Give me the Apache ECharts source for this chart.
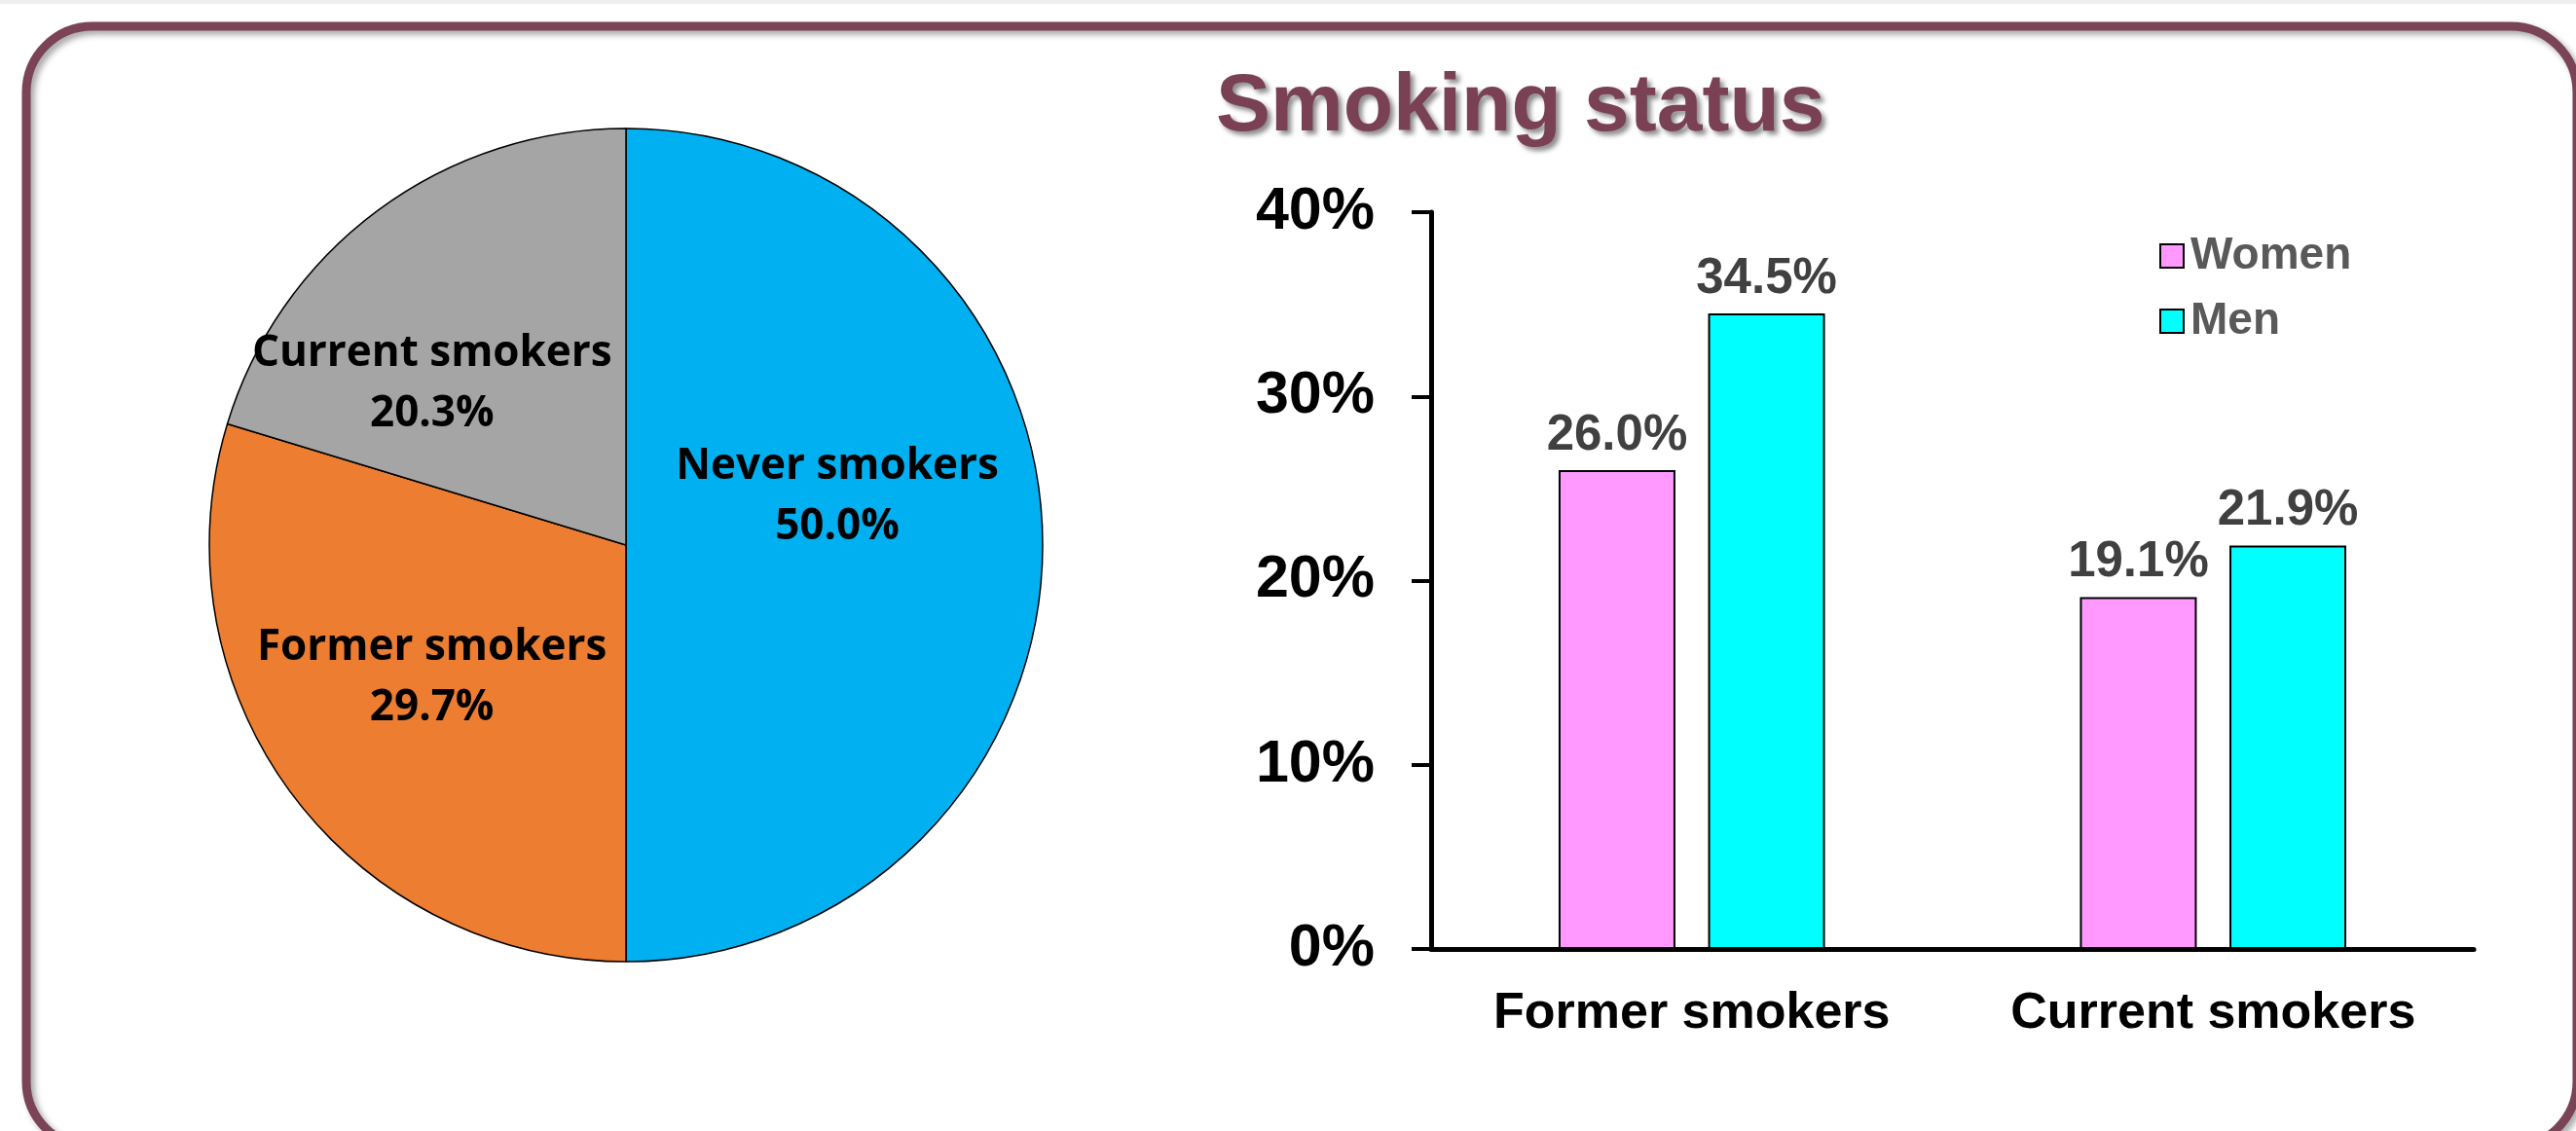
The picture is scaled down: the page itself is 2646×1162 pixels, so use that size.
<!DOCTYPE html>
<html>
<head>
<meta charset="utf-8">
<title>Smoking status</title>
<script src="https://cdn.jsdelivr.net/npm/echarts@6/dist/echarts.min.js"></script>
<style>
  html, body { margin: 0; padding: 0; background: #fff; }
  #myEchart { width: 2646px; height: 1162px; }
</style>
</head>
<body>
<div id="myEchart"></div>
<script>
// pie data
var pieNames = ['Never smokers', 'Former smokers', 'Current smokers'];
var pieValues = [50.0, 29.7, 20.3];
var pieColors = ['#00B0F0', '#ED7D31', '#A5A5A5'];
// bar data
var barCategories = ['Former smokers', 'Current smokers'];
var womenValues = [26.0, 19.1];
var menValues = [34.5, 21.9];
var seriesNames = ['Women', 'Men'];

// label nudges so the pie labels sit like the original (excel best fit)
var pieLabelOffset = [[0, -50], [-25, 7], [-70, 9]];

var chart = echarts.init(document.getElementById('myEchart'));

var pieData = pieNames.map(function (name, i) {
  return {
    name: name,
    value: pieValues[i],
    itemStyle: { color: pieColors[i] },
    label: { offset: pieLabelOffset[i] }
  };
});

var arial = 'Arial, "Liberation Sans", sans-serif';

var option = {
  backgroundColor: '#fff',
  animation: false,
  title: {
    text: 'Smoking status',
    left: 1244,
    top: 64,
    textStyle: {
      fontFamily: arial,
      fontWeight: 'bold',
      fontSize: 84,
      color: '#7A4155',
      textShadowColor: 'rgba(0,0,0,0.45)',
      textShadowBlur: 5,
      textShadowOffsetX: 4,
      textShadowOffsetY: 4
    }
  },
  legend: {
    orient: 'vertical',
    left: 2213,
    top: 235,
    itemWidth: 24,
    itemHeight: 24,
    itemGap: 21,
    icon: 'rect',
    data: seriesNames,
    textStyle: {
      fontFamily: arial,
      fontWeight: 'bold',
      fontSize: 46,
      lineHeight: 46,
      color: '#595959',
      padding: [0, 0, 0, 2]
    }
  },
  grid: {
    left: 1470,
    right: 105,
    top: 218,
    bottom: 187
  },
  xAxis: {
    type: 'category',
    data: barCategories,
    axisLine: { lineStyle: { color: '#000', width: 5 } },
    axisTick: { show: false },
    axisLabel: {
      interval: 0,
      hideOverlap: false,
      margin: 41,
      color: '#000',
      fontFamily: arial,
      fontWeight: 'bold',
      fontSize: 52
    }
  },
  yAxis: {
    type: 'value',
    min: 0,
    max: 40,
    interval: 10,
    splitLine: { show: false },
    axisLine: { show: true, lineStyle: { color: '#000', width: 5 } },
    axisTick: { show: true, length: 20, lineStyle: { color: '#000', width: 4 } },
    axisLabel: {
      margin: 58,
      formatter: '{value}%',
      color: '#000',
      fontFamily: arial,
      fontWeight: 'bold',
      fontSize: 61
    }
  },
  series: [
    {
      name: 'pie',
      type: 'pie',
      center: [643, 560],
      radius: 428,
      startAngle: 90,
      clockwise: true,
      silent: true,
      itemStyle: { borderColor: '#000', borderWidth: 1.5 },
      label: {
        show: true,
        position: 'inside',
        color: '#000',
        fontFamily: '"Open Sans", "Noto Sans", sans-serif',
        fontWeight: 'bold',
        fontSize: 44,
        lineHeight: 62,
        align: 'center',
        formatter: function (p) {
          return p.name + '\n' + p.value.toFixed(1) + '%';
        }
      },
      labelLine: { show: false },
      data: pieData
    },
    {
      name: seriesNames[0],
      type: 'bar',
      barWidth: 120,
      barGap: '28%',
      itemStyle: { color: '#FF99FF', borderColor: '#000', borderWidth: 2 },
      label: {
        show: true,
        position: 'top',
        distance: 10,
        color: '#404040',
        fontFamily: arial,
        fontWeight: 'bold',
        fontSize: 51,
        formatter: function (p) { return p.value.toFixed(1) + '%'; }
      },
      data: womenValues
    },
    {
      name: seriesNames[1],
      type: 'bar',
      barWidth: 120,
      itemStyle: { color: '#00FFFF', borderColor: '#000', borderWidth: 2 },
      label: {
        show: true,
        position: 'top',
        distance: 10,
        color: '#404040',
        fontFamily: arial,
        fontWeight: 'bold',
        fontSize: 51,
        formatter: function (p) { return p.value.toFixed(1) + '%'; }
      },
      data: menValues
    }
  ],
  graphic: [
    // faint strip on top edge
    {
      type: 'rect',
      z: -10,
      shape: { x: 0, y: 0, width: 2646, height: 4 },
      style: { fill: '#EFEFEF' }
    },
    // rounded frame round the slide
    {
      type: 'rect',
      z: -5,
      shape: { x: 27, y: 27, width: 2620, height: 1152, r: 68 },
      style: {
        fill: 'none',
        stroke: '#7A4356',
        lineWidth: 9,
        shadowColor: 'rgba(0,0,0,0.35)',
        shadowBlur: 6,
        shadowOffsetX: 4,
        shadowOffsetY: 4
      }
    }
  ]
};

chart.setOption(option);
</script>
</body>
</html>
